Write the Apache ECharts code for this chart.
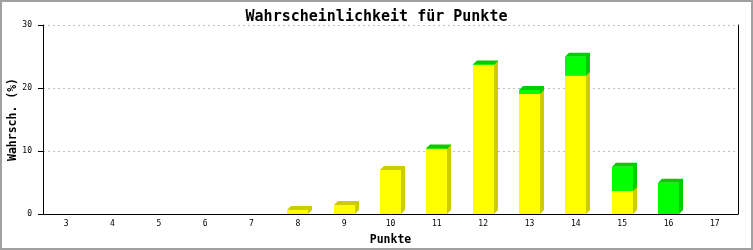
<!DOCTYPE html>
<html>
<head>
<meta charset="utf-8">
<script src="https://cdn.jsdelivr.net/npm/echarts@6/dist/echarts.min.js"></script>
<style>
html,body{margin:0;padding:0;background:#fff;}
#c{width:753px;height:250px;}
</style>
</head>
<body>
<div id="c"></div>
<script>
const categories = ['3','4','5','6','7','8','9','10','11','12','13','14','15','16','17'];
const yellowValues = [0,0,0,0,0,0.63,1.43,6.98,10.3,23.65,19.05,21.95,3.65,0,0];
const greenValues  = [0,0,0,0,0,0,0,0,0.1,0.1,0.63,3.02,3.86,4.97,0];
const yTicks = [0,10,20,30];

const FONT = 'DejaVu Sans Mono';

function segData(base, vals){
  return vals.map((v,i)=>[i, base ? base[i] : 0, (base ? base[i] : 0) + v]);
}

function makeRender(front, shade){
  return function(params, api){
    const idx = api.value(0), b = api.value(1), t = api.value(2);
    if (t - b <= 0) return null;
    const pT = api.coord([idx, t]);
    const pB = api.coord([idx, b]);
    const bw = 21;
    const d = 4, dv = 4;
    const x0 = Math.round(pT[0] - bw/2), x1 = x0 + bw;
    const yT = pT[1], yB = pB[1];
    return {
      type: 'group',
      children: [
        {type:'polygon', shape:{points:[[x0,yT],[x0+d,yT-dv],[x1+d,yT-dv],[x1+d,yB-dv],[x1,yB],[x1,yT]]},
         style:{fill:shade}},
        {type:'rect', shape:{x:x0, y:yT, width:bw, height:yB-yT}, style:{fill:front}}
      ]
    };
  };
}

const chart = echarts.init(document.getElementById('c'), null, {renderer:'canvas'});
chart.setOption({
  animation:false,
  backgroundColor:'#fff',
  title:{text:'Wahrscheinlichkeit für Punkte', left:'center', top:5,
    textStyle:{fontFamily:FONT, fontSize:15, fontWeight:'bold', color:'#000'}},
  grid:{left:43, right:15, top:25, bottom:36, containLabel:false, outerBoundsMode:'none'},
  xAxis:{type:'category', data:categories,
    name:'Punkte', nameLocation:'middle', nameGap:20, nameMoveOverlap:false,
    nameTextStyle:{fontFamily:FONT, fontSize:11.5, fontWeight:'bold', color:'#000'},
    axisLine:{lineStyle:{color:'#000', width:1}}, axisTick:{show:false},
    axisLabel:{fontFamily:FONT, fontSize:8, color:'#000', margin:6}},
  yAxis:[{type:'value', min:yTicks[0], max:yTicks[yTicks.length-1], interval:10,
    name:'Wahrsch. (%)', nameLocation:'middle', nameGap:24, nameRotate:90, nameMoveOverlap:false,
    nameTextStyle:{fontFamily:FONT, fontSize:11.5, fontWeight:'bold', color:'#000'},
    axisLine:{show:true, lineStyle:{color:'#000', width:1}},
    axisTick:{show:true, length:5, lineStyle:{color:'#000'}},
    axisLabel:{fontFamily:FONT, fontSize:8, color:'#000', margin:11},
    splitLine:{show:true, lineStyle:{color:'#c0c0c0', type:[2,3], width:1}}},
   {type:'value', position:'right', min:0, max:30, interval:10,
    axisLine:{show:true, lineStyle:{color:'#000', width:1}},
    axisTick:{show:false}, axisLabel:{show:false}, splitLine:{show:false}}],
  graphic:[{type:'rect', shape:{x:1, y:1, width:751, height:248},
    style:{fill:null, stroke:'#a0a0a0', lineWidth:2}, z:100}],
  series:[
    {type:'custom', name:'gelb', renderItem:makeRender('#ffff00','#cccc00'),
     data:segData(null, yellowValues), encode:{x:0, y:2}},
    {type:'custom', name:'grün', renderItem:makeRender('#00ff00','#00cc00'),
     data:segData(yellowValues, greenValues), encode:{x:0, y:2}}
  ]
});
</script>
</body>
</html>
